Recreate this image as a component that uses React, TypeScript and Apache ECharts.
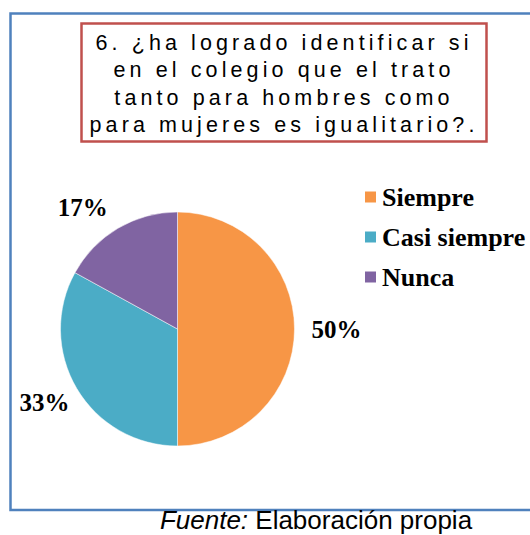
import React, { useEffect, useRef } from "react";
import * as echarts from "echarts";

const categories = ["Siempre", "Casi siempre", "Nunca"];
const values = [50, 33, 17];
const colors = ["#F79646", "#4BACC6", "#8064A2"];
const titleLines = [
  "6. ¿ha logrado identificar si",
  "en el colegio que el trato",
  "tanto para hombres como",
  "para mujeres es igualitario?.",
];
const sourceItalic = "Fuente:";
const sourceText = " Elaboración propia";

export default function App() {
  const ref = useRef<HTMLDivElement>(null);
  useEffect(() => {
    const el = ref.current!;
    const chart = echarts.init(el, null, { renderer: "svg" });
    const titleY = [42.5, 70, 97.5, 125];
    const labelNudge = [
      { dx: 0, dy: 0 },
      { dx: 8, dy: 8 },
      { dx: 1, dy: -10 },
    ];
    const option = {
      animation: false,
      backgroundColor: "#ffffff",
      color: colors,
      legend: {
        orient: "vertical",
        left: 363,
        top: 184,
        padding: 0,
        itemWidth: 13,
        itemHeight: 13,
        itemGap: 14,
        icon: "rect",
        selectedMode: false,
        data: categories,
        textStyle: {
          fontFamily: "Liberation Serif",
          fontWeight: "bold",
          fontSize: 26,
          lineHeight: 26,
          color: "#000",
        },
      },
      graphic: [
        {
          type: "rect",
          z: 0,
          shape: { x: 10.5, y: 13.5, width: 540, height: 496.5 },
          style: { fill: "none", stroke: "#4F81BD", lineWidth: 2.5 },
        },
        {
          type: "rect",
          z: 1,
          shape: { x: 81.5, y: 23.5, width: 405, height: 118 },
          style: { fill: "#ffffff", stroke: "#C0504D", lineWidth: 2.5 },
        },
        ...titleLines.map((t, i) => ({
          type: "text",
          z: 2,
          x: 284,
          y: titleY[i],
          style: {
            text: t,
            fill: "#000",
            font: "21.5px 'Liberation Sans'",
            textAlign: "center",
            textVerticalAlign: "middle",
          },
        })),
        {
          type: "text",
          z: 2,
          x: 316,
          y: 519.5,
          style: {
            text: "{i|" + sourceItalic + "}" + sourceText,
            fill: "#000",
            font: "26px 'Liberation Sans'",
            textAlign: "center",
            textVerticalAlign: "middle",
            rich: {
              i: {
                fontStyle: "italic",
                fontSize: 26,
                fontFamily: "Liberation Sans",
                fill: "#000",
              },
            },
          },
        },
      ],
      series: [
        {
          type: "pie",
          center: [177.5, 329],
          radius: 117,
          startAngle: 90,
          clockwise: true,
          avoidLabelOverlap: false,
          emphasis: { disabled: true },
          itemStyle: { borderColor: "#ffffff", borderWidth: 0.5 },
          label: {
            show: true,
            position: "outside",
            formatter: (p: any) => p.value + "%",
            fontFamily: "Liberation Serif",
            fontWeight: "bold",
            fontSize: 25,
            color: "#000",
          },
          labelLine: { show: false, length: 12, length2: 0 },
          labelLayout: (params: any) => labelNudge[params.dataIndex],
          data: categories.map((c, i) => ({ name: c, value: values[i] })),
        },
      ],
    };
    chart.setOption(option as any);
    const applySpacing = () => {
      el.querySelectorAll("text").forEach((t) => {
        if (titleLines.includes((t.textContent ?? "").trim())) {
          t.setAttribute("letter-spacing", "4.1");
        }
      });
    };
    chart.on("finished", applySpacing);
    applySpacing();
    const timer = setTimeout(applySpacing, 50);
    return () => {
      clearTimeout(timer);
      chart.dispose();
    };
  }, []);
  return (
    <div
      ref={ref}
      style={{
        position: "fixed",
        left: 0,
        top: 0,
        width: 530,
        height: 535,
        background: "#fff",
      }}
    />
  );
}
